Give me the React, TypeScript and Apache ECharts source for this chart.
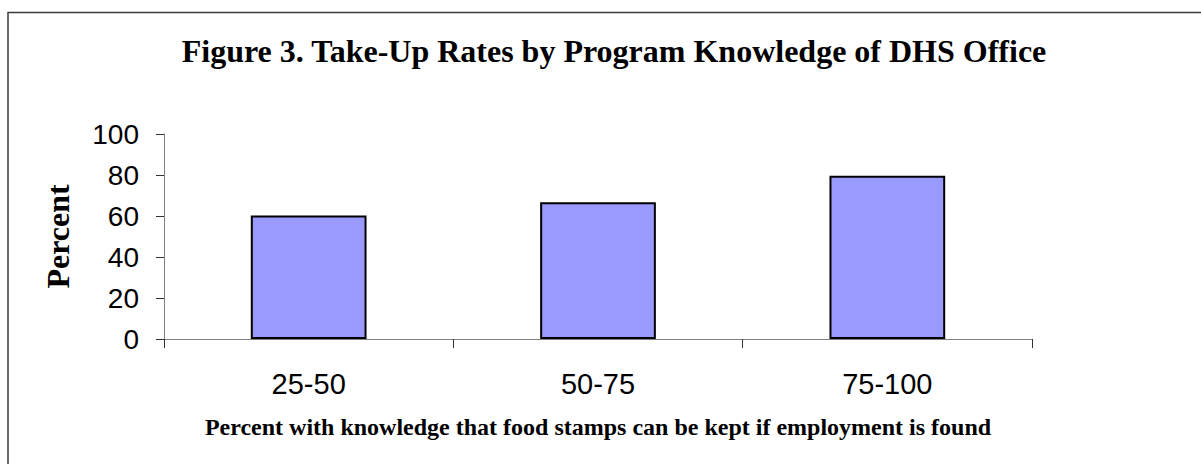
import React, { useEffect, useRef } from "react";
import * as echarts from "echarts";

const categories = ["25-50", "50-75", "75-100"];
const takeUpRates = [60.2, 66.7, 79.6];
const yTicks = { min: 0, max: 100, interval: 20 };
const titleText = "Figure 3. Take-Up Rates by Program Knowledge of DHS Office";
const xName = "Percent with knowledge that food stamps can be kept if employment is found";
const yName = "Percent";

export default function App() {
  const ref = useRef<HTMLDivElement>(null);
  useEffect(() => {
    if (!ref.current) return;
    const chart = echarts.init(ref.current, undefined, { renderer: "svg" });
    chart.setOption({
      animation: false,
      backgroundColor: "#ffffff",
      title: {
        text: titleText,
        left: 609,
        top: 30,
        textAlign: "center",
        textStyle: {
          fontFamily: "Liberation Serif",
          fontWeight: "bold",
          fontSize: 32,
          color: "#000",
        },
      },
      graphic: [
        {
          type: "rect",
          shape: { x: 8, y: 12.5, width: 1220, height: 480 },
          style: { fill: "none", stroke: "#3a3a3a", lineWidth: 1.5 },
          silent: true,
        },
      ],
      grid: { left: 164, top: 134, width: 868, height: 205 },
      xAxis: {
        type: "category",
        data: categories,
        boundaryGap: true,
        name: xName,
        nameLocation: "middle",
        nameGap: 76,
        nameTextStyle: {
          fontFamily: "Liberation Serif",
          fontWeight: "bold",
          fontSize: 24,
          color: "#000",
        },
        axisLine: { show: true, lineStyle: { color: "#808080", width: 1 } },
        axisTick: { show: true, length: 9, alignWithLabel: false, lineStyle: { color: "#333", width: 1 } },
        axisLabel: {
          margin: 30,
          fontFamily: "Liberation Sans",
          fontSize: 29,
          color: "#000",
        },
      },
      yAxis: {
        type: "value",
        min: yTicks.min,
        max: yTicks.max,
        interval: yTicks.interval,
        name: yName,
        nameLocation: "middle",
        nameGap: 90,
        nameRotate: 90,
        nameTextStyle: {
          fontFamily: "Liberation Serif",
          fontWeight: "bold",
          fontSize: 32,
          color: "#000",
        },
        splitLine: { show: false },
        axisLine: { show: true, lineStyle: { color: "#808080", width: 1 } },
        axisTick: { show: true, length: 8, lineStyle: { color: "#333", width: 1 } },
        axisLabel: {
          margin: 25,
          fontFamily: "Liberation Sans",
          fontSize: 28,
          color: "#000",
        },
      },
      series: [
        {
          type: "bar",
          data: takeUpRates,
          barWidth: "40%",
          itemStyle: { color: "#9999ff", borderColor: "#000", borderWidth: 2 },
        },
      ],
    });
    return () => chart.dispose();
  }, []);
  return (
    <div
      ref={ref}
      style={{ position: "absolute", left: 0, top: 0, width: 1201, height: 464 }}
    />
  );
}
